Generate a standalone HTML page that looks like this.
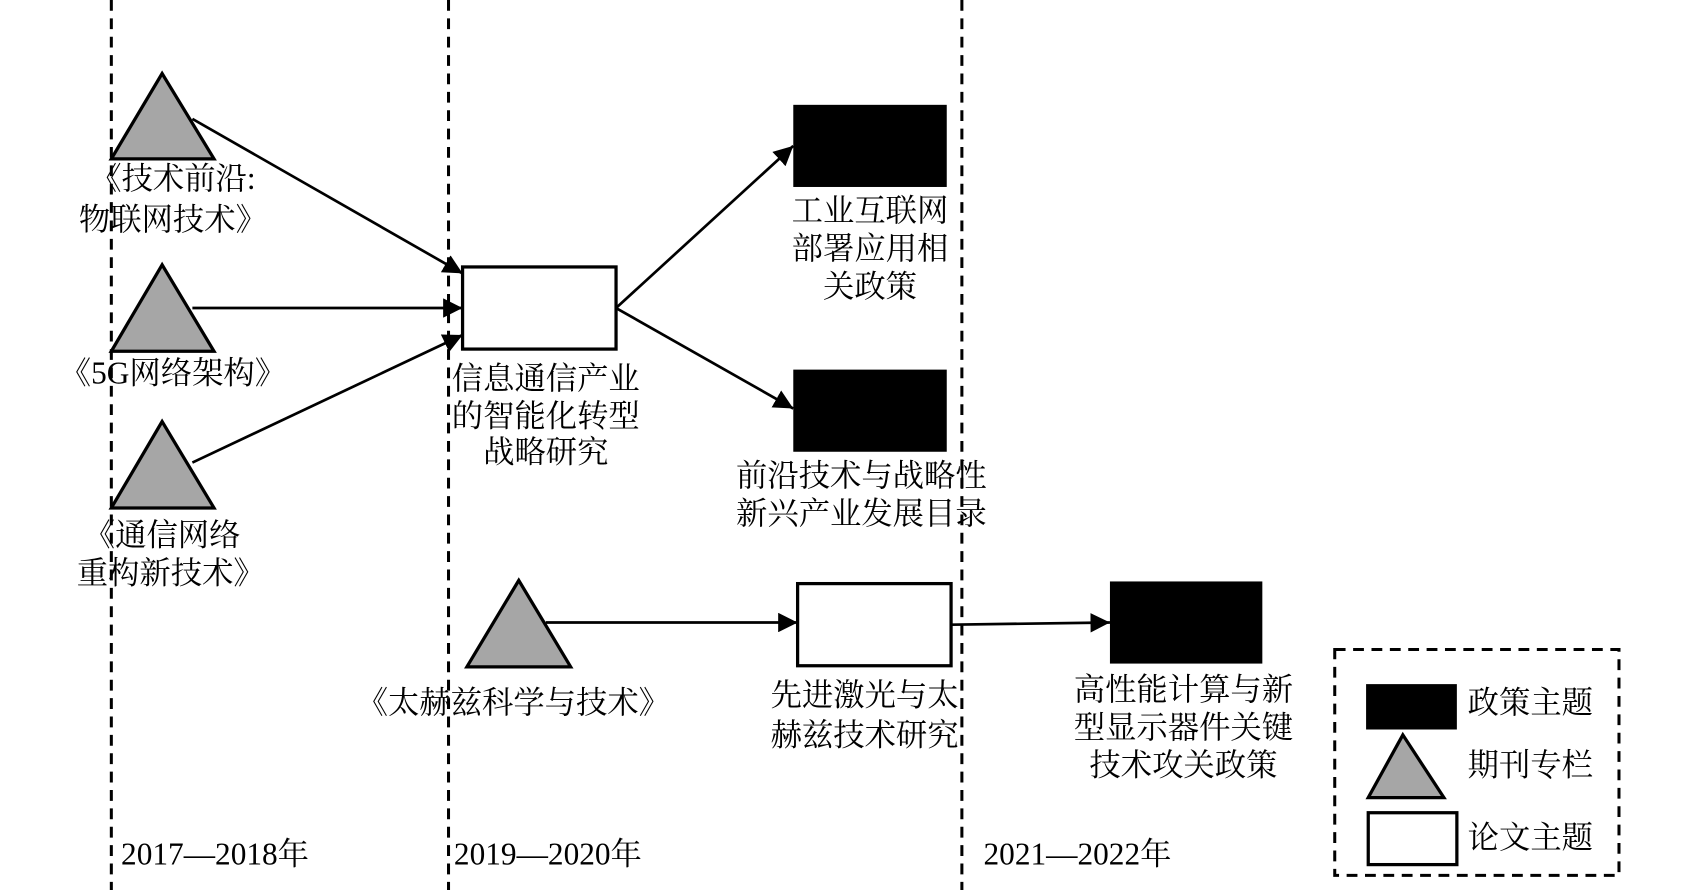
<!DOCTYPE html>
<html><head><meta charset="utf-8"><style>
html,body{margin:0;padding:0;background:#fff;}
svg{display:block;}
text{font-family:"Liberation Serif","Noto Serif CJK SC",serif;font-size:29px;fill:#000;dominant-baseline:central;text-anchor:middle;}
</style></head><body>
<svg width="1686" height="890" viewBox="0 0 1560 823.5" xmlns="http://www.w3.org/2000/svg">
<defs><marker id="a" viewBox="0 0 10 10" refX="10" refY="5" markerWidth="18" markerHeight="18" markerUnits="userSpaceOnUse" orient="auto"><path d="M0,0L10,5L0,10z" fill="#000"/></marker></defs>
<g stroke="#000" stroke-width="2.8" stroke-dasharray="10,7">
<line x1="103" y1="0" x2="103" y2="825"/><line x1="415" y1="0" x2="415" y2="825"/><line x1="890" y1="0" x2="890" y2="825"/>
<rect x="1235" y="601" width="263" height="209" fill="none"/>
</g>
<g stroke="#000" stroke-width="2.5" fill="none">
<line x1="178" y1="110" x2="428" y2="253" marker-end="url(#a)"/>
<line x1="178" y1="285" x2="428" y2="285" marker-end="url(#a)"/>
<line x1="178" y1="428" x2="428" y2="310" marker-end="url(#a)"/>
<line x1="570" y1="285" x2="734" y2="135" marker-end="url(#a)"/>
<line x1="570" y1="285" x2="734" y2="378" marker-end="url(#a)"/>
<line x1="505" y1="576" x2="738" y2="576" marker-end="url(#a)"/>
<line x1="880" y1="578" x2="1027" y2="576" marker-end="url(#a)"/>
</g>
<g stroke="#000" stroke-width="3" fill="#a6a6a6">
<polygon points="150,68 103,147 198,147"/>
<polygon points="150,245 103,325 198,325"/>
<polygon points="150,390 103,470 198,470"/>
<polygon points="480,537 432,617 528,617"/>
<polygon points="1298,680 1266,738 1336,738"/>
</g>
<g stroke="#000" stroke-width="3" fill="#fff">
<rect x="428" y="247" width="142" height="76"/>
<rect x="738" y="540" width="142" height="76"/>
<rect x="1266" y="752" width="82" height="48"/>
</g>
<g fill="#000">
<rect x="734" y="97" width="142" height="76"/>
<rect x="734" y="342" width="142" height="76"/>
<rect x="1027" y="538" width="141" height="76"/>
<rect x="1264" y="633" width="84" height="42"/>
</g>
<text x="160" y="165">《技术前沿:</text><text x="160" y="203">物联网技术》</text>
<text x="160" y="345">《5G网络架构》</text>
<text x="150" y="495">《通信网络</text><text x="158" y="530">重构新技术》</text>
<text x="505" y="350">信息通信产业</text><text x="505" y="385">的智能化转型</text><text x="505" y="418">战略研究</text>
<text x="805" y="195">工业互联网</text><text x="805" y="230">部署应用相</text><text x="805" y="265">关政策</text>
<text x="797" y="440">前沿技术与战略性</text><text x="797" y="475">新兴产业发展目录</text>
<text x="475" y="650">《太赫兹科学与技术》</text>
<text x="800" y="643">先进激光与太</text><text x="800" y="680">赫兹技术研究</text>
<text x="1095" y="638">高性能计算与新</text><text x="1095" y="673">型显示器件关键</text><text x="1095" y="708">技术攻关政策</text>
<g style="text-anchor:start">
<text x="112" y="790" style="font-size:29px;text-anchor:start">2017—2018年</text>
<text x="420" y="790" style="font-size:29px;text-anchor:start">2019—2020年</text>
<text x="910" y="790" style="font-size:29px;text-anchor:start">2021—2022年</text>
<text x="1358" y="650" style="text-anchor:start">政策主题</text>
<text x="1358" y="708" style="text-anchor:start">期刊专栏</text>
<text x="1358" y="775" style="text-anchor:start">论文主题</text>
</g>
</svg>
</body></html>
